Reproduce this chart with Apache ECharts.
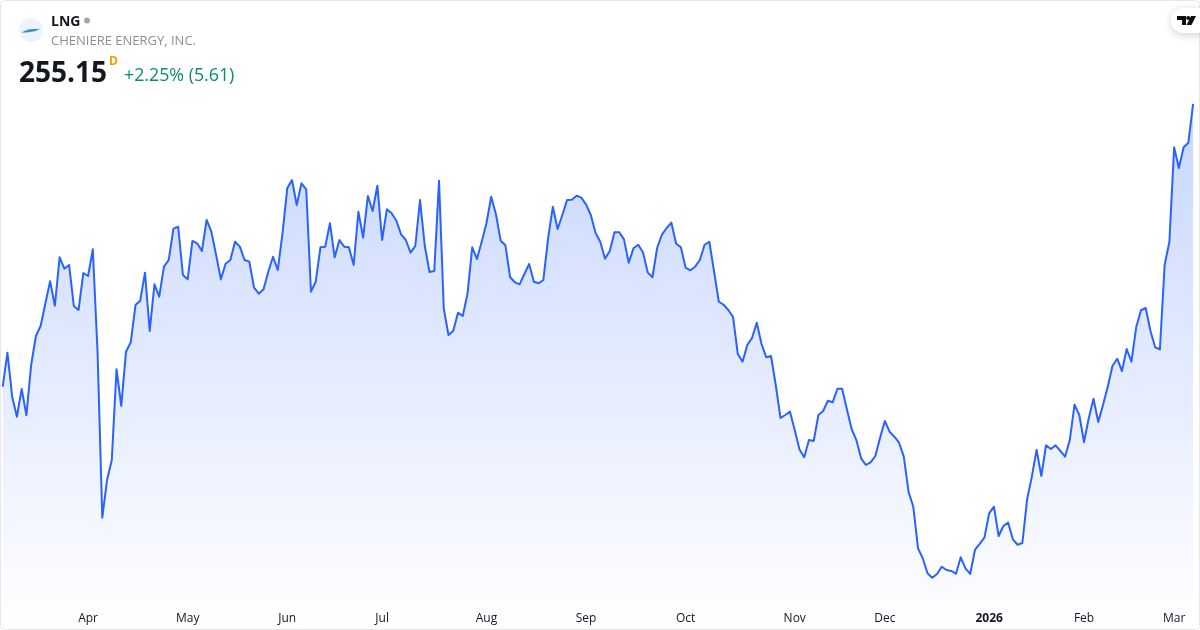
<!DOCTYPE html>
<html>
<head>
<meta charset="utf-8">
<title>LNG</title>
<script src="https://cdn.jsdelivr.net/npm/echarts@6/dist/echarts.min.js"></script>
<style>
  html, body { margin: 0; padding: 0; background: #fff; }
  #main { width: 1200px; height: 630px; }
</style>
</head>
<body>
<div id="main"></div>
<script>
const closes = [
  217.44, 221.97, 216.11, 213.44, 217.13, 213.63, 220.33, 224.2, 225.53, 228.56,
  231.49, 228.24, 234.69, 233.17, 233.67, 228.2, 227.67, 232.6, 232.2, 235.76,
  222.11, 199.97, 205, 207.67, 219.76, 214.87, 222.11, 223.36, 228.33, 228.91,
  232.64, 224.87, 231.09, 229.44, 233.44, 234.33, 238.51, 238.77, 232.33, 231.76,
  236.87, 236.56, 235.53, 239.67, 238.11, 235, 231.76, 233.84, 234.33, 236.77,
  236.11, 234.33, 234.11, 230.64, 229.84, 230.43, 232.77, 234.77, 233, 237.89,
  243.89, 245, 241.67, 244.56, 243.76, 230.11, 231.44, 236.03, 236.11, 239.23,
  234.69, 237, 236.11, 236.03, 233.67, 240.77, 237.31, 242.87, 240.87, 244.24,
  237, 241.09, 240.56, 239.57, 237.76, 237, 235.31, 236.2, 242.33, 236.2,
  232.73, 232.87, 244.91, 227.89, 224.33, 224.91, 227.31, 226.87, 229.8, 236.03,
  234.47, 236.77, 239.23, 242.77, 240.43, 236.91, 236.29, 232.03, 231.36, 231.09,
  232.47, 233.8, 231.44, 231.23, 231.67, 237.23, 241.44, 238.47, 240.33, 242.33,
  242.37, 242.91, 242.64, 241.76, 240.33, 237.97, 236.77, 234.51, 235.53, 238.03,
  238.03, 237.09, 233.97, 235.89, 236.37, 235.36, 232.69, 232.03, 235.97, 237.71,
  238.6, 239.31, 236.51, 236.03, 233.31, 232.96, 233.44, 234.33, 236.37, 236.77,
  232.77, 228.77, 228.37, 227.67, 226.73, 221.8, 220.77, 223, 223.93, 225.97,
  223.13, 221.36, 221.53, 217.67, 213.27, 213.67, 214.11, 211.67, 209.09, 208.03,
  210.33, 210.2, 213.67, 214.2, 215.57, 215.36, 217.17, 217.17, 214.43, 211.8,
  210.33, 207.89, 207, 207.36, 208.2, 210.64, 212.87, 211.44, 210.77, 209.97,
  208.11, 203.44, 201.44, 195.89, 194.56, 192.56, 191.97, 192.47, 193.44, 193,
  192.87, 192.51, 194.69, 193.23, 192.47, 195.67, 196.47, 197.31, 200.56, 201.44,
  197.53, 198.87, 199.31, 197.09, 196.37, 196.6, 202.43, 205.44, 209, 205.53,
  209.63, 209.13, 209.63, 208.87, 208.11, 210.33, 215.04, 213.67, 210.07, 213.23,
  215.84, 212.73, 215, 217.44, 220.2, 221.17, 219.53, 222.47, 220.77, 225.36,
  227.63, 227.93, 224.91, 222.69, 222.43, 233.67, 236.77, 249.36, 246.6, 249.36,
  249.97, 255.15
];
const tickLabels = ["Apr", "May", "Jun", "Jul", "Aug", "Sep", "Oct", "Nov", "Dec", "2026", "Feb", "Mar"];
const tickIndexes = [18, 39, 60, 80, 102, 123, 144, 167, 186, 208, 228, 247];

const UI_FONT = '"Open Sans", sans-serif';

// the axis is by trading day, only month starts carry a name
let categories = [];
for (let i = 0; i < closes.length; ++i) {
  let pos = tickIndexes.indexOf(i);
  categories.push(pos >= 0 ? tickLabels[pos] : "");
}

const myChart = echarts.init(document.getElementById("main"), null, { renderer: "canvas" });
myChart.setOption({
  animation: false,
  grid: { left: 2.7, right: 6.9, top: 0, bottom: 0 },
  xAxis: {
    type: "category",
    data: categories,
    boundaryGap: false,
    axisLine: { show: false },
    axisTick: { show: false },
    splitLine: { show: false },
    axisLabel: {
      inside: true,
      margin: 5,
      hideOverlap: false,
      showMinLabel: true,
      showMaxLabel: true,
      interval: function (index, value) {
        return value !== "";
      },
      color: "#131722",
      fontFamily: UI_FONT,
      fontSize: 12,
      formatter: function (value) {
        return /^\d{4}$/.test(value) ? "{year|" + value + "}" : value;
      },
      rich: {
        year: { fontFamily: UI_FONT, fontSize: 12, fontWeight: 700, color: "#131722" }
      }
    }
  },
  yAxis: {
    type: "value",
    min: 185,
    max: 269,
    show: false,
    splitLine: { show: false }
  },
  series: [
    {
      type: "line",
      data: closes,
      symbol: "none",
      smooth: false,
      lineStyle: { color: "#2962FF", width: 2, join: "round" },
      areaStyle: {
        color: new echarts.graphic.LinearGradient(0, 0, 0, 1, [
          { offset: 0, color: "rgba(41,98,255,0.37)" },
          { offset: 1, color: "rgba(41,98,255,0)" }
        ])
      }
    }
  ],
  graphic: [
    // card border
    { type: "rect", silent: true, z: 20, shape: { x: 0.5, y: 0.5, width: 1199, height: 629, r: 4 },
      style: { fill: "none", stroke: "#e6e8ee", lineWidth: 1 } },
    // company logo
    { type: "circle", z: 20, shape: { cx: 31, cy: 30, r: 12 }, style: { fill: "#eef3fb" } },
    { type: "polygon", z: 21, shape: { points: [[21, 32.5], [29, 29.2], [40, 28.7], [36, 31], [27, 32.5]] },
      style: { fill: "#3c8fd0" } },
    // header text
    { type: "text", z: 20, left: 51, top: 15, style: { text: "LNG", fill: "#131722", font: "700 14px " + UI_FONT } },
    { type: "circle", z: 20, shape: { cx: 87, cy: 20.5, r: 3 }, style: { fill: "#a3a6af" } },
    { type: "text", z: 20, left: 51, top: 35, style: { text: "CHENIERE ENERGY, INC.", fill: "#8c8f99", font: "13px " + UI_FONT } },
    { type: "text", z: 20, left: 19, top: 60, style: { text: "255.15", fill: "#131722", font: "700 28px " + UI_FONT } },
    { type: "text", z: 20, left: 109, top: 56, style: { text: "D", fill: "#ff9800", font: "700 12px " + UI_FONT } },
    { type: "text", z: 20, left: 124, top: 67, style: { text: "+2.25% (5.61)", fill: "#0a8a73", font: "17.8px " + UI_FONT } },
    // tradingview badge
    { type: "rect", z: 20, shape: { x: 1171, y: 8, width: 40, height: 25, r: 12 },
      style: { fill: "#fff", shadowBlur: 8, shadowColor: "rgba(0,0,0,0.18)", shadowOffsetY: 2 } },
    { type: "polygon", z: 21, shape: { points: [[1177, 16], [1186, 16], [1186, 25], [1182, 25], [1182, 20], [1177, 20]] },
      style: { fill: "#0e0f13" } },
    { type: "circle", z: 21, shape: { cx: 1188.2, cy: 18, r: 2 }, style: { fill: "#0e0f13" } },
    { type: "polygon", z: 21, shape: { points: [[1191, 16], [1196, 16], [1191.5, 25], [1186.5, 25]] },
      style: { fill: "#0e0f13" } }
  ]
});
</script>
</body>
</html>
